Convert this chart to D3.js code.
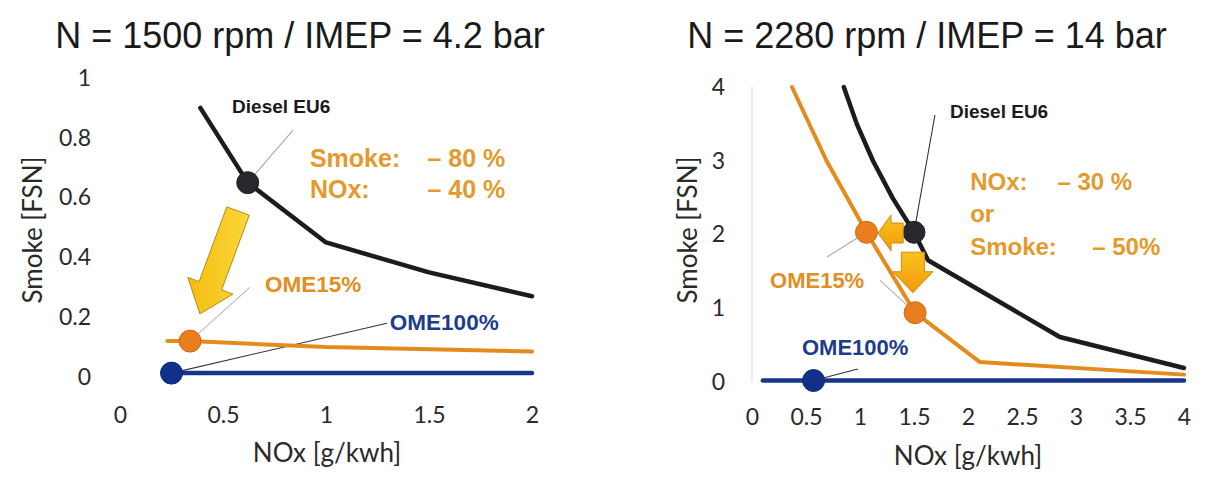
<!DOCTYPE html>
<html>
<head>
<meta charset="utf-8">
<script src="https://d3js.org/d3.v7.min.js"></script>
<style>
  body { margin: 0; background: #fff; }
  svg { display: block; }
</style>
</head>
<body>
<script>
// ---- data ----
const titles = ["N = 1500 rpm / IMEP = 4.2 bar", "N = 2280 rpm / IMEP = 14 bar"];

// left panel: 1500 rpm / 4.2 bar
const leftXTicks = [0, 0.5, 1, 1.5, 2];
const leftYTicks = [0, 0.2, 0.4, 0.6, 0.8, 1];
const leftDiesel = [[0.39, 0.90], [0.62, 0.65], [1.0, 0.45], [1.5, 0.35], [2.0, 0.27]];
const leftOme15 = [[0.23, 0.12], [0.34, 0.12], [1.0, 0.10], [2.0, 0.085]];
const leftOme100 = [[0.25, 0.013], [2.0, 0.013]];
const leftMarkers = [
  { x: 0.62, y: 0.65, fuel: "diesel" },
  { x: 0.34, y: 0.12, fuel: "ome15" },
  { x: 0.25, y: 0.013, fuel: "ome100" }
];

// right panel: 2280 rpm / 14 bar
const rightXTicks = [0, 0.5, 1, 1.5, 2, 2.5, 3, 3.5, 4];
const rightYTicks = [0, 1, 2, 3, 4];
const rightDiesel = [[0.85, 4.0], [0.97, 3.5], [1.12, 3.0], [1.3, 2.5], [1.5, 2.03], [1.63, 1.65], [2.85, 0.61], [4.0, 0.19]];
const rightOme15 = [[0.37, 4.0], [0.69, 3.0], [1.06, 2.03], [1.51, 0.94], [2.11, 0.27], [4.0, 0.1]];
const rightOme100 = [[0.1, 0.02], [4.0, 0.02]];
const rightMarkers = [
  { x: 1.5, y: 2.03, fuel: "diesel" },
  { x: 1.06, y: 2.03, fuel: "ome15" },
  { x: 1.51, y: 0.94, fuel: "ome15" },
  { x: 0.57, y: 0.02, fuel: "ome100" }
];

const colors = { diesel: "#1c1c1c", ome15: "#e38c1d", ome100: "#17358a", note: "#e49a2c" };
const dotFill = { diesel: "#26282c", ome15: "#ea7d1e", ome100: "#10308a" };

const W = 1214, H = 481;

const svg = d3.select("body").append("svg")
  .attr("width", W)
  .attr("height", H);

const defs = svg.append("defs");
const bigGrad = defs.append("linearGradient").attr("id", "bigArrow")
  .attr("x1", 0).attr("y1", 0).attr("x2", 1).attr("y2", 0);
bigGrad.append("stop").attr("offset", "0%").attr("stop-color", "#f3bc10");
bigGrad.append("stop").attr("offset", "100%").attr("stop-color", "#fcd83a");
const smallGrad = defs.append("linearGradient").attr("id", "smallArrow")
  .attr("x1", 0).attr("y1", 0).attr("x2", 0).attr("y2", 1);
smallGrad.append("stop").attr("offset", "0%").attr("stop-color", "#fcc21c");
smallGrad.append("stop").attr("offset", "100%").attr("stop-color", "#ef9a0c");

// block arrow from tail (x0,y0) to tip (x1,y1), in pixels
function arrowPath(x0, y0, x1, y1, shaft, head, headLen) {
  const dx = x1 - x0, dy = y1 - y0;
  const len = Math.hypot(dx, dy);
  const ux = dx / len, uy = dy / len, nx = -uy, ny = ux;
  const bx = x1 - ux * headLen, by = y1 - uy * headLen;
  const p = [
    [x0 + nx * shaft / 2, y0 + ny * shaft / 2],
    [bx + nx * shaft / 2, by + ny * shaft / 2],
    [bx + nx * head / 2, by + ny * head / 2],
    [x1, y1],
    [bx - nx * head / 2, by - ny * head / 2],
    [bx - nx * shaft / 2, by - ny * shaft / 2],
    [x0 - nx * shaft / 2, y0 - ny * shaft / 2]
  ];
  return "M" + p.map(d => d.join(",")).join("L") + "Z";
}

function drawPanel(cfg) {
  const g = svg.append("g");
  const x = d3.scaleLinear().domain(cfg.xDomain).range(cfg.xRange);
  const y = d3.scaleLinear().domain(cfg.yDomain).range(cfg.yRange);

  // title
  g.append("text")
    .attr("x", cfg.titleX)
    .attr("y", 48)
    .attr("text-anchor", "middle")
    .style("font", "36px 'Liberation Sans', Arial, sans-serif")
    .attr("fill", "#1a1a1a")
    .text(cfg.title);

  if (cfg.faintAxis) {
    g.append("line")
      .attr("x1", x(0)).attr("x2", x(0))
      .attr("y1", y(cfg.yDomain[1])).attr("y2", y(0))
      .attr("stroke", "#e4e4e4").attr("stroke-width", 1.5);
  }

  // axes
  const yAxis = g.append("g")
    .attr("transform", `translate(${cfg.xRange[0]},0)`)
    .call(d3.axisLeft(y).tickValues(cfg.yTicks).tickSize(0).tickPadding(cfg.yPad).tickFormat(d => d));
  const xAxis = g.append("g")
    .attr("transform", `translate(0,${cfg.yRange[0]})`)
    .call(d3.axisBottom(x).tickValues(cfg.xTicks).tickSize(0).tickPadding(cfg.xPad).tickFormat(d => d));
  [xAxis, yAxis].forEach(a => {
    a.select(".domain").remove();
    a.selectAll("text")
      .style("font", "23px Lato, 'Open Sans', sans-serif")
      .attr("fill", "#2a2a2a");
  });

  g.append("text")
    .attr("x", cfg.xTitleX)
    .attr("y", cfg.xTitleY)
    .attr("text-anchor", "middle")
    .style("font", "26px Lato, 'Open Sans', sans-serif")
    .attr("fill", "#2a2a2a")
    .text("NOx [g/kwh]");

  g.append("text")
    .attr("transform", `translate(${cfg.yTitleX},230) rotate(-90)`)
    .attr("text-anchor", "middle")
    .style("font", "26px Lato, 'Open Sans', sans-serif")
    .attr("fill", "#2a2a2a")
    .text("Smoke [FSN]");

  // leader lines (under the markers)
  g.selectAll(".leader")
    .data(cfg.leaders)
    .join("line")
    .attr("class", "leader")
    .attr("x1", d => x(d[0])).attr("y1", d => y(d[1]))
    .attr("x2", d => x(d[2])).attr("y2", d => y(d[3]))
    .attr("stroke", d => d[4])
    .attr("stroke-width", 1.1);

  const line = d3.line().x(d => x(d[0])).y(d => y(d[1]));
  [["ome100", cfg.ome100, 4.5], ["ome15", cfg.ome15, 4], ["diesel", cfg.diesel, 4.5]].forEach(([k, vals, w]) => {
    g.append("path")
      .datum(vals)
      .attr("fill", "none")
      .attr("stroke", colors[k])
      .attr("stroke-width", w)
      .attr("stroke-linejoin", "round")
      .attr("stroke-linecap", "round")
      .attr("d", line);
  });

  g.selectAll(".dot")
    .data(cfg.markers)
    .join("circle")
    .attr("class", "dot")
    .attr("cx", d => x(d.x))
    .attr("cy", d => y(d.y))
    .attr("r", 11)
    .attr("fill", d => dotFill[d.fuel])
    .attr("stroke", d => d3.color(dotFill[d.fuel]).darker(0.4))
    .attr("stroke-width", 1);

  // arrows
  cfg.arrows.forEach(a => {
    g.append("path")
      .attr("d", arrowPath(x(a.from[0]), y(a.from[1]), x(a.to[0]), y(a.to[1]), a.shaft, a.head, a.headLen))
      .attr("fill", a.fill)
      .attr("stroke", a.stroke)
      .attr("stroke-width", 1);
  });

  // text labels
  cfg.labels.forEach(l => {
    g.append("text")
      .attr("x", x(l.x))
      .attr("y", y(l.y))
      .attr("text-anchor", l.anchor || "start")
      .style("font", `bold ${l.size}px 'Liberation Sans', Arial, sans-serif`)
      .attr("fill", l.color)
      .text(l.text);
  });
}

drawPanel({
  title: titles[0], titleX: 300,
  xDomain: [0, 2], xRange: [120, 532],
  yDomain: [0, 1], yRange: [377, 78],
  xTicks: leftXTicks, yTicks: leftYTicks,
  xPad: 30, yPad: 29,
  xTitleX: 327, xTitleY: 462, yTitleX: 42,
  faintAxis: false,
  diesel: leftDiesel, ome15: leftOme15, ome100: leftOme100,
  markers: leftMarkers,
  leaders: [
    [0.62, 0.65, 0.84, 0.826, "#aaa"],
    [0.34, 0.12, 0.63, 0.30, "#bbb"],
    [0.25, 0.013, 1.296, 0.18, "#333"]
  ],
  arrows: [
    { from: [0.573, 0.555], to: [0.388, 0.211], shaft: 24, head: 48, headLen: 30,
      fill: "url(#bigArrow)", stroke: "#b98a10" }
  ],
  labels: [
    { text: "Diesel EU6", x: 0.544, y: 0.883, size: 19, color: "#1a1a1a" },
    { text: "Smoke:", x: 0.922, y: 0.702, size: 25, color: colors.note },
    { text: "– 80 %", x: 1.87, y: 0.702, size: 25, color: colors.note, anchor: "end" },
    { text: "NOx:", x: 0.922, y: 0.599, size: 25, color: colors.note },
    { text: "– 40 %", x: 1.87, y: 0.599, size: 25, color: colors.note, anchor: "end" },
    { text: "OME15%", x: 0.704, y: 0.284, size: 22.5, color: "#e28e22" },
    { text: "OME100%", x: 1.31, y: 0.157, size: 22.5, color: "#1e3c8c" }
  ]
});

drawPanel({
  title: titles[1], titleX: 927,
  xDomain: [0, 4], xRange: [752, 1184],
  yDomain: [0, 4], yRange: [382, 87],
  xTicks: rightXTicks, yTicks: rightYTicks,
  xPad: 27, yPad: 27,
  xTitleX: 968, xTitleY: 465, yTitleX: 697,
  faintAxis: true,
  diesel: rightDiesel, ome15: rightOme15, ome100: rightOme100,
  markers: rightMarkers,
  leaders: [
    [1.5, 2.03, 1.694, 3.62, "#333"],
    [1.06, 2.03, 0.694, 1.695, "#aaa"],
    [1.45, 1.02, 1.185, 1.38, "#bbb"],
    [0.57, 0.02, 0.98, 0.176, "#333"]
  ],
  arrows: [
    { from: [1.40, 2.02], to: [1.167, 2.02], shaft: 20, head: 36, headLen: 13,
      fill: "url(#smallArrow)", stroke: "#d88a0a" },
    { from: [1.49, 1.76], to: [1.49, 1.21], shaft: 23, head: 40, headLen: 21,
      fill: "url(#smallArrow)", stroke: "#d88a0a" }
  ],
  labels: [
    { text: "Diesel EU6", x: 1.833, y: 3.58, size: 19, color: "#1a1a1a" },
    { text: "NOx:", x: 2.02, y: 2.60, size: 24, color: colors.note },
    { text: "– 30 %", x: 3.52, y: 2.60, size: 24, color: colors.note, anchor: "end" },
    { text: "or", x: 2.02, y: 2.17, size: 24, color: colors.note },
    { text: "Smoke:", x: 2.02, y: 1.72, size: 24, color: colors.note },
    { text: "– 50%", x: 3.78, y: 1.72, size: 24, color: colors.note, anchor: "end" },
    { text: "OME15%", x: 0.167, y: 1.27, size: 22, color: "#e28e22" },
    { text: "OME100%", x: 0.463, y: 0.366, size: 22, color: "#1e3c8c" }
  ]
});
</script>
</body>
</html>
